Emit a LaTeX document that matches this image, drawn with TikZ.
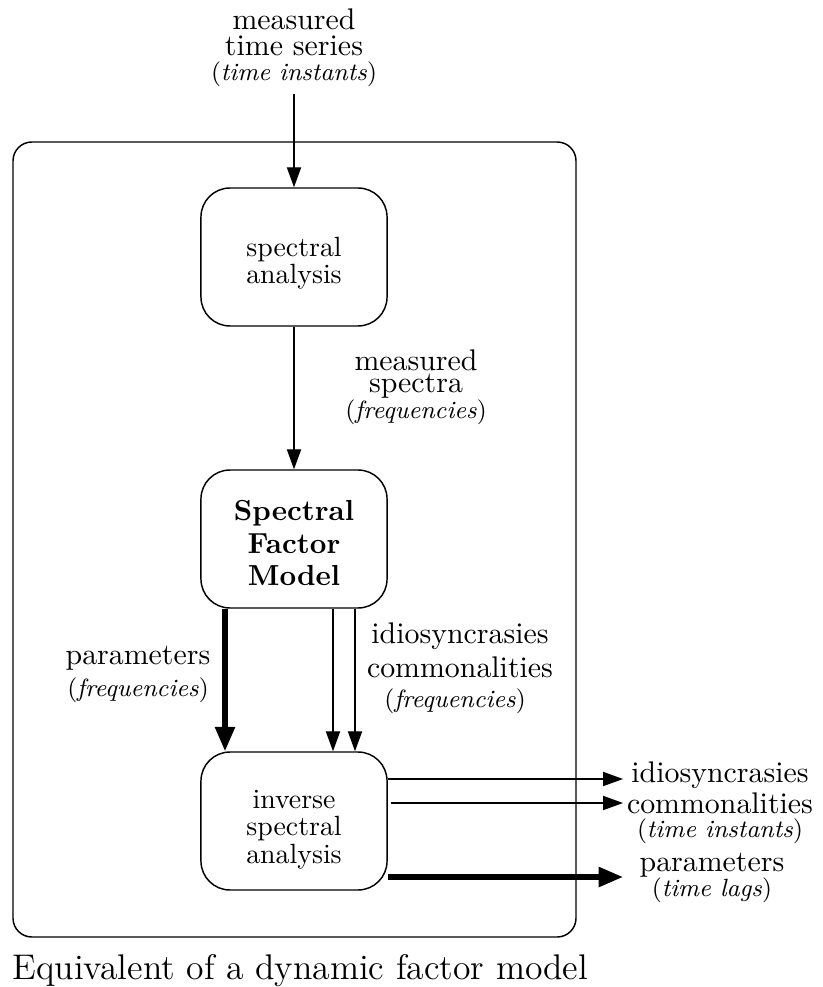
\documentclass[tikz,border=0pt]{standalone}
\usetikzlibrary{arrows.meta}
\newcommand\unitsz{\fontsize{8.6}{8.6}\selectfont}
\begin{document}
\begin{tikzpicture}[x=0.345pt,y=-0.345pt,
  thinline/.style={line width=0.45pt},
  thickline/.style={line width=1.75pt},
  thinarrow/.style={thinline,-{Triangle[length=6.9pt,width=4.9pt]}},
  thickarrow/.style={thickline,-{Triangle[length=8.4pt,width=6.6pt]}},
  procbox/.style={draw,line width=0.5pt,rounded corners=10pt,inner sep=0pt,
    minimum width=64.2pt,minimum height=47.6pt,align=center,
    font=\fontsize{9.6}{9.2}\selectfont},
  lbl/.style={align=center,inner sep=0pt,font=\fontsize{10.3}{8.8}\selectfont}
]
\useasboundingbox (0,0) rectangle (822,987);

% outer frame and its caption
\draw[line width=0.5pt,rounded corners=6.5pt] (13,142) rectangle (576,937);
\node[anchor=base west,inner sep=0pt,font=\fontsize{12.3}{14}\selectfont] (caption) at (12,979)
  {Equivalent of a dynamic factor model};

% processing blocks
\node[procbox] (b1) at (294,257) {\rule{0pt}{10.8pt}spectral\\analysis};
\node[procbox,font=\fontsize{10}{11.2}\selectfont\bfseries] (b2) at (294,539)
  {\rule{0pt}{9.9pt}Spectral\\Factor\\Model};
\node[procbox,font=\fontsize{9.6}{9.5}\selectfont] (b3) at (294,821)
  {\rule{0pt}{12pt}inverse\\spectral\\analysis};

% labels
\node[lbl] (tin) at (294,48) {measured\\time series\\{\unitsz(\textit{time instants})}};
\node[lbl] (lspec) at (416,387) {measured\\[-1pt]spectra\\[0.1pt]{\unitsz(\textit{frequencies})}};
\node[lbl] (lmid) at (460,668) {idiosyncrasies\\[1.5pt]commonalities\\[1.5pt]{\unitsz\hspace*{-3.4pt}(\textit{frequencies})}};
\node[lbl] (lpar) at (138,674) {parameters\\[2.2pt]{\unitsz(\textit{frequencies})}};
\node[lbl] (rout) at (720,803) {idiosyncrasies\\[0.4pt]commonalities\\[-0.6pt]{\unitsz(\textit{time instants})}};
\node[lbl] (rpar) at (712,878) {parameters\\[-0.2pt]{\unitsz(\textit{time lags})}};

% connector ends
\coordinate (src) at (294,94);
\coordinate (vp) at (225,0);
\coordinate (vi) at (333,0);
\coordinate (vc) at (355,0);
\coordinate (o1) at (623,779);
\coordinate (o2) at (623,803);
\coordinate (o3) at (623,877);

% connectors
\draw[thinarrow] (src) -- (b1.north);
\draw[thinarrow] (b1.south) -- (b2.north);
\draw[thickarrow] (b2.south -| vp) -- (b3.north -| vp);
\draw[thinarrow] (b2.south -| vi) -- (b3.north -| vi);
\draw[thinarrow] (b2.south -| vc) -- (b3.north -| vc);
\draw[thinarrow] (b3.east |- o1) -- (o1);
\draw[thinarrow] ([xshift=1pt]b3.east |- o2) -- (o2);
\draw[thickarrow] (b3.east |- o3) -- (o3);
\end{tikzpicture}
\end{document}
